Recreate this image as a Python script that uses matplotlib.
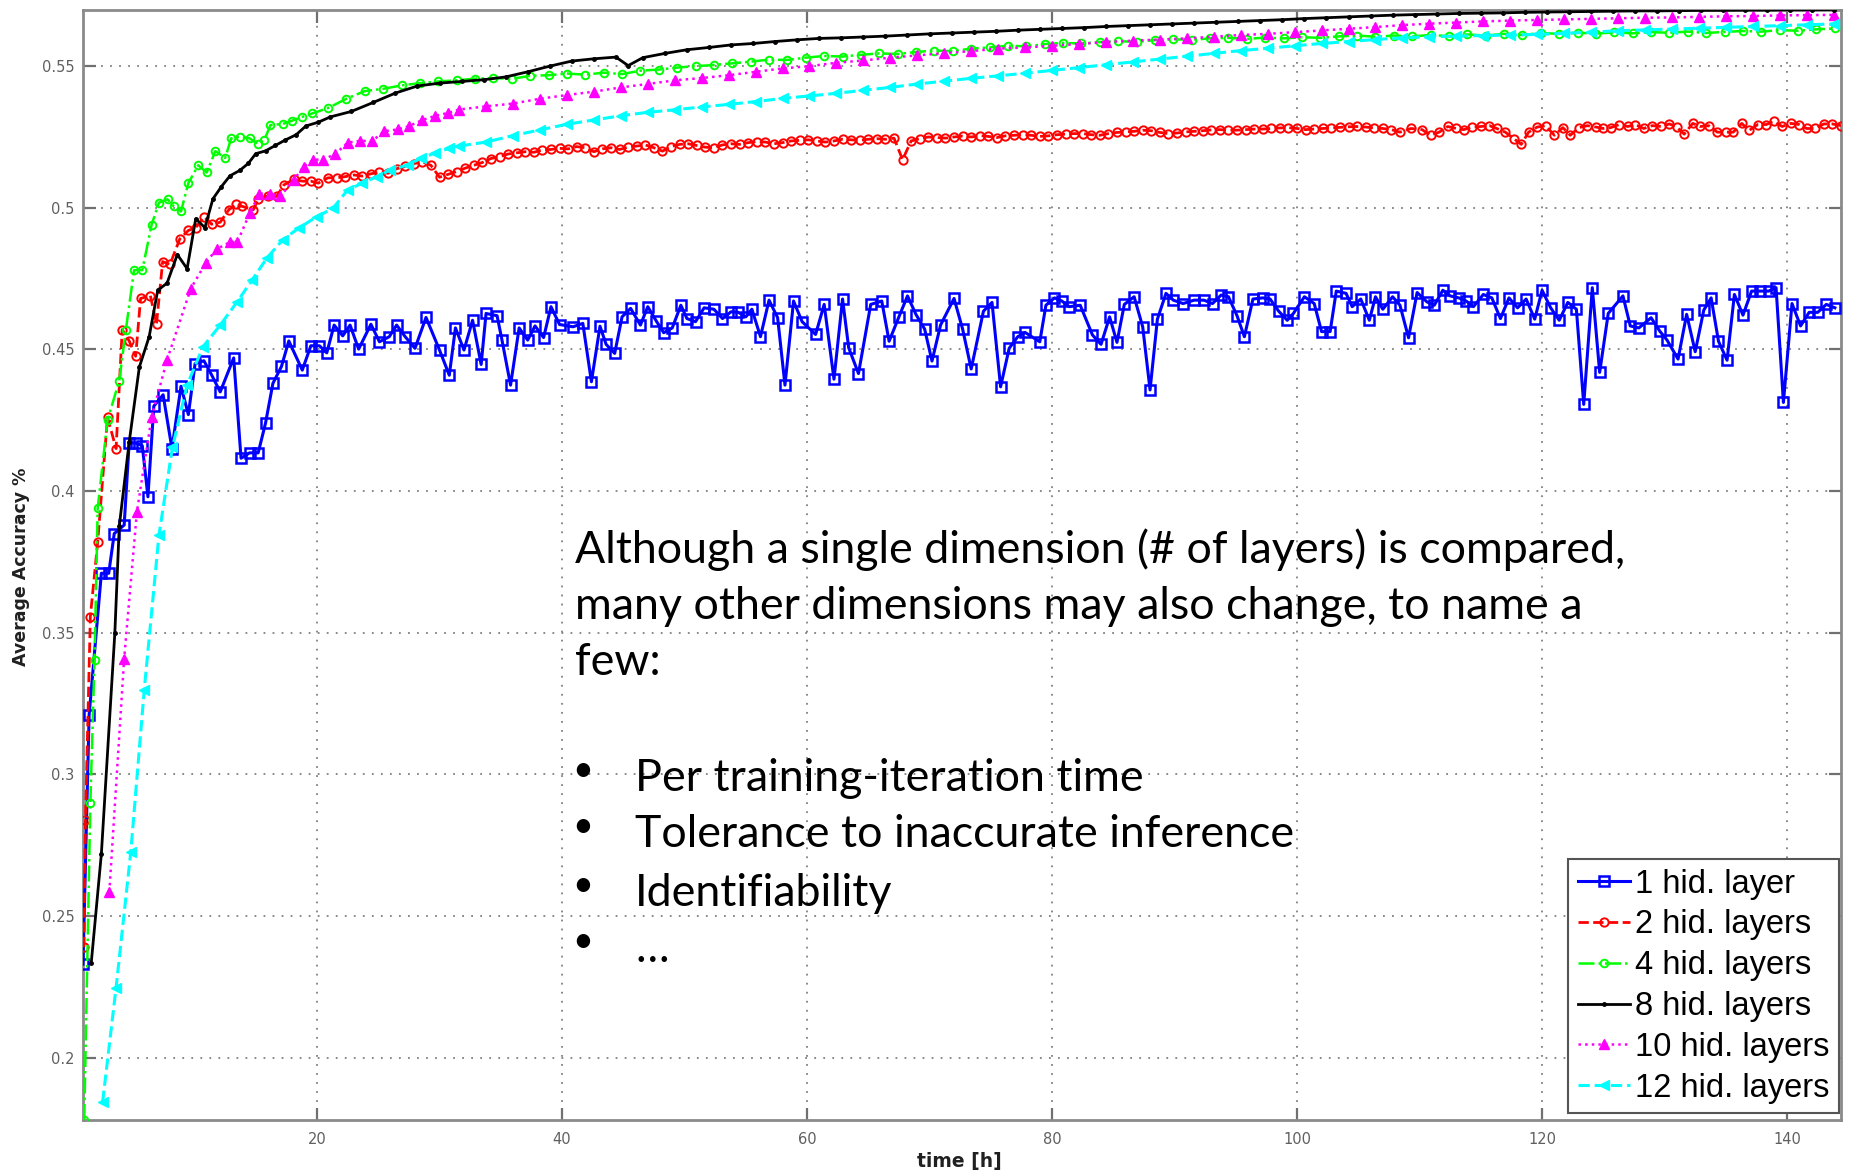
import matplotlib
matplotlib.use('Agg')
import matplotlib.pyplot as plt
from matplotlib.ticker import FixedLocator, FixedFormatter

# ---------------- data ----------------
blue_x = [0.9, 1.4, 2.4, 3.0, 3.45, 4.26, 4.67, 5.2, 5.74, 6.2,
          6.68, 7.44, 8.16, 8.9, 9.5, 10.05, 10.77, 11.4, 12.1, 13.2,
          13.8, 14.5, 15.2, 15.8, 16.4, 17.1, 17.7,
          18.8, 19.5, 20.2, 20.8, 21.4, 22.1, 22.7, 23.4, 24.4, 25.1,
          25.9, 26.5, 27.2, 28.0, 28.9, 30.0, 30.8, 31.3, 32.0, 32.7,
          33.4, 33.8, 34.7, 35.1, 35.8, 36.5, 37.2, 37.8, 38.5, 39.1,
          39.8, 40.9, 41.7, 42.4, 43.1, 43.6, 44.3, 44.9, 45.6, 46.4,
          47.0, 47.7, 48.3, 49.0, 49.7,
          50.2, 50.9, 51.6, 52.4, 53.1, 53.8, 54.4, 55.0, 55.5, 56.2,
          56.9, 57.6, 58.2, 58.9, 59.6, 60.7, 61.4, 62.2, 62.9, 63.4,
          64.2, 65.2, 66.1, 66.7, 67.5, 68.2, 68.9, 69.6, 70.2, 70.9,
          72.0, 72.7, 73.4, 74.4, 75.1, 75.8, 76.5, 77.2, 77.8, 79.0,
          79.5, 80.2, 80.8, 81.4,
          82.3, 83.3, 84.0, 84.7, 85.3, 85.9, 86.7, 87.4, 88.0, 88.6,
          89.3, 89.9, 90.7, 91.6, 92.4, 93.1, 93.8, 94.4, 95.1, 95.7,
          96.4, 97.2, 97.8, 98.5, 99.2, 99.7, 100.6, 101.4, 102.0, 102.7,
          103.2, 104.0, 104.5, 105.2, 105.9, 106.4, 107.0, 107.8, 108.4, 109.1,
          109.8, 110.6, 111.2, 111.9,
          112.5, 113.2, 113.8, 114.4, 115.2, 115.9, 116.6, 117.3, 118.0, 118.7,
          119.4, 120.0, 120.7, 121.4, 122.1, 122.8, 123.4, 124.1, 124.7, 125.4,
          126.6, 127.2, 127.9, 128.9, 129.6, 130.2, 131.1, 131.8, 132.5, 133.2,
          133.8, 134.4, 135.1, 135.7, 136.4, 137.1, 137.8, 138.5, 139.1, 139.7,
          140.4, 141.1, 141.8, 142.5, 143.2, 143.9]
blue_y = [0.233, 0.321, 0.371, 0.371, 0.385, 0.388, 0.417, 0.417, 0.416, 0.398,
          0.430, 0.434, 0.415, 0.437, 0.427, 0.445, 0.446, 0.441, 0.435, 0.447,
          0.4116, 0.4135, 0.4135, 0.424, 0.438, 0.444, 0.453,
          0.4427, 0.4513, 0.4513, 0.4488, 0.4586, 0.4548, 0.4586, 0.4501, 0.4589, 0.4527,
          0.4545, 0.4586, 0.4545, 0.4504, 0.4613, 0.4498, 0.4409, 0.4576, 0.4498, 0.4603,
          0.4447, 0.4627, 0.4619, 0.4533, 0.4374, 0.4576, 0.4533, 0.4583, 0.4542, 0.4651,
          0.4588, 0.4580, 0.4592, 0.4386, 0.4582, 0.4518, 0.4486, 0.4615, 0.4645, 0.4586,
          0.4651, 0.4600, 0.4559, 0.4576, 0.4656,
          0.4609, 0.4598, 0.4647, 0.4642, 0.4609, 0.4633, 0.4631, 0.4615, 0.4642, 0.4545,
          0.4674, 0.4612, 0.4374, 0.4671, 0.4598, 0.4553, 0.4659, 0.4395, 0.4678, 0.4506,
          0.4415, 0.4659, 0.4671, 0.4529, 0.4615, 0.4689, 0.4623, 0.4572, 0.4459, 0.4586,
          0.4680, 0.4572, 0.4431, 0.4635, 0.4666, 0.4368, 0.4504, 0.4545, 0.4560, 0.4527,
          0.4656, 0.4682, 0.4671, 0.4651,
          0.4656, 0.4551, 0.4518, 0.4615, 0.4525, 0.4659, 0.4686, 0.4580, 0.4357, 0.4607,
          0.4698, 0.4674, 0.4662, 0.4674, 0.4674, 0.4662, 0.4692, 0.4686, 0.4619, 0.4545,
          0.4678, 0.4682, 0.4678, 0.4635, 0.4603, 0.4627, 0.4686, 0.4662, 0.4563, 0.4563,
          0.4706, 0.4698, 0.4651, 0.4678, 0.4603, 0.4686, 0.4642, 0.4686, 0.4656, 0.4541,
          0.4701, 0.4668, 0.4656, 0.4709,
          0.4689, 0.4682, 0.4671, 0.4651, 0.4694, 0.4682, 0.4609, 0.4682, 0.4647, 0.4678,
          0.4607, 0.4709, 0.4647, 0.4603, 0.4666, 0.4642, 0.4306, 0.4718, 0.4419, 0.4627,
          0.4689, 0.4583, 0.4576, 0.4612, 0.4565, 0.4533, 0.4466, 0.4624, 0.4492, 0.4639,
          0.4682, 0.4529, 0.4462, 0.4694, 0.4621, 0.4706, 0.4706, 0.4706, 0.4718, 0.4313,
          0.4662, 0.4583, 0.4631, 0.4631, 0.4659, 0.4647]

red_x = [0.98, 1.1, 1.5, 2.1, 2.9, 3.6, 4.1, 4.67, 5.2, 5.6,
         6.4, 6.9, 7.4, 8.0, 8.8, 9.5, 10.1, 10.8, 11.4, 12.1,
         12.8, 13.4, 13.9, 14.8, 15.2, 16.0, 16.7, 17.3, 18.1, 18.8,
         19.5, 20.1, 20.9,
         21.6, 22.3, 23.0, 23.7, 24.4, 25.1, 25.8, 26.5, 27.2, 27.9,
         28.6, 29.3, 30.0, 30.7, 31.4, 32.1, 32.8, 33.5, 34.2, 34.9,
         35.6, 36.3, 37.0, 37.7, 38.4, 39.1, 39.8, 40.5, 41.2, 41.9,
         42.6, 43.3, 44.0, 44.7, 45.4, 46.1, 46.8, 47.5, 48.2, 48.9,
         49.6, 50.3, 51.0, 51.7, 52.4, 53.1, 53.8, 54.5, 55.2, 55.9,
         56.6, 57.3, 58.0, 58.7, 59.4, 60.1, 60.8, 61.5, 62.2, 62.9,
         63.6, 64.3, 65.0, 65.7, 66.4, 67.1, 67.8, 68.5, 69.2, 69.9,
         70.6, 71.3, 72.0, 72.7, 73.4, 74.1, 74.8, 75.5, 76.2, 76.9,
         77.6, 78.3, 79.0, 79.7, 80.4, 81.1, 81.8, 82.5, 83.2, 83.9,
         84.6, 85.3, 86.0, 86.7, 87.4, 88.1, 88.8, 89.5, 90.2, 90.9,
         91.6, 92.3, 93.0, 93.7, 94.4, 95.1, 95.8, 96.5, 97.2, 97.9,
         98.6, 99.3, 100.0, 100.7, 101.4, 102.1, 102.8, 103.5, 104.2, 104.9,
         105.6, 106.3, 107.0, 107.7,
         108.4, 109.3, 110.2, 110.9, 111.6, 112.3, 113.0, 113.6, 114.3, 115.0,
         115.7, 116.3, 117.0, 117.7, 118.3, 118.9, 119.6, 120.3, 121.0, 121.7,
         122.3, 123.0, 123.7, 124.4, 125.0, 125.6, 126.3, 127.0, 127.6, 128.3,
         129.0, 129.7, 130.4, 131.0, 131.6, 132.3, 132.9, 133.6, 134.3, 135.0,
         135.6, 136.3, 136.9, 137.6, 138.3, 138.9, 139.6, 140.3, 141.0, 141.6,
         142.3, 143.0, 143.7, 144.4]
red_y = [0.239, 0.284, 0.3557, 0.382, 0.426, 0.415, 0.457, 0.453, 0.4476, 0.468,
         0.469, 0.459, 0.481, 0.480, 0.489, 0.492, 0.493, 0.4968, 0.4942, 0.4949,
         0.4993, 0.5012, 0.5005, 0.4993, 0.503, 0.5043, 0.504, 0.5081, 0.510, 0.5094,
         0.5094, 0.5087, 0.5106,
         0.5106, 0.5110, 0.5116, 0.5112, 0.5120, 0.5126, 0.5122, 0.5138, 0.5146, 0.5156,
         0.5162, 0.5150, 0.5108, 0.5118, 0.5128, 0.5140, 0.5150, 0.5160, 0.5174, 0.5180,
         0.5190, 0.5194, 0.5198, 0.5196, 0.5204, 0.5206, 0.5210, 0.5208, 0.5216, 0.5212,
         0.5198, 0.5208, 0.5212, 0.5206, 0.5214, 0.5218, 0.5222, 0.5212, 0.5200, 0.5216,
         0.5224, 0.5226, 0.5220, 0.5214, 0.5212, 0.5222, 0.5226, 0.5224, 0.5230, 0.5234,
         0.5232, 0.5226, 0.5230, 0.5236, 0.5238, 0.5240, 0.5236, 0.5232, 0.5236, 0.5242,
         0.5240, 0.5238, 0.5242, 0.5244, 0.5242, 0.5246, 0.5170, 0.5236, 0.5244, 0.5250,
         0.5248, 0.5246, 0.5250, 0.5253, 0.5250, 0.5255, 0.5252, 0.5248, 0.5254, 0.5256,
         0.5258, 0.5256, 0.5252, 0.5254, 0.5258, 0.5260, 0.5262, 0.5262, 0.5258, 0.5256,
         0.5262, 0.5266, 0.5268, 0.5270, 0.5274, 0.5272, 0.5266, 0.5262, 0.5264, 0.5268,
         0.5270, 0.5272, 0.5275, 0.5276, 0.5274, 0.5274, 0.5276, 0.5278, 0.5278, 0.5280,
         0.5282, 0.5283, 0.5280, 0.5276, 0.5278, 0.5280, 0.5282, 0.5284, 0.5286, 0.5287,
         0.5285, 0.5282, 0.5280, 0.5276,
         0.5267, 0.528, 0.5276, 0.5256, 0.5267, 0.5287, 0.528, 0.5276, 0.5285, 0.5287,
         0.529, 0.528, 0.5267, 0.5244, 0.5224, 0.5267, 0.5285, 0.529, 0.5256, 0.5283,
         0.5256, 0.5283, 0.529, 0.5285, 0.528, 0.5283, 0.5294, 0.5287, 0.5294, 0.528,
         0.529, 0.5287, 0.5296, 0.5285, 0.526, 0.5298, 0.5287, 0.529, 0.5267, 0.5267,
         0.5267, 0.5298, 0.5273, 0.5294, 0.5294, 0.5305, 0.5287, 0.5298, 0.5294, 0.528,
         0.528, 0.5296, 0.5296, 0.529]

green_x = [1.0, 1.5, 1.84, 2.1, 2.9, 3.86, 4.4, 5.07, 5.74, 6.5,
           7.1, 7.8, 8.3, 8.9, 9.5, 10.3, 11.0, 11.7, 12.5, 13.0,
           13.7, 14.5, 15.2, 15.7, 16.2, 17.2, 18.0, 18.8, 19.6, 20.9,
           22.4, 23.9, 25.4, 26.9, 28.4, 29.9, 31.4, 32.9, 34.4, 35.9,
           37.4, 38.9, 40.4, 41.9, 43.4, 44.9, 46.4, 47.9, 49.4, 50.9,
           52.4, 53.9, 55.4, 56.9, 58.4, 59.9, 61.4, 62.9, 64.4, 65.9,
           67.4, 68.9, 70.4, 71.9, 73.4, 74.9, 76.4, 77.9, 79.4, 80.9,
           82.4, 83.9, 85.4, 86.9, 88.4, 89.9, 91.4, 92.9, 94.4, 95.9,
           97.4, 98.9, 100.4, 101.9, 103.4, 104.9, 106.4, 107.9, 109.4, 110.9,
           112.4, 113.9, 115.4, 116.9, 118.4, 119.9, 121.4, 122.9, 124.4, 125.9,
           127.4, 128.9, 130.4, 131.9, 133.4, 134.9, 136.4, 137.9, 139.4, 140.9,
           142.4, 143.9]
green_y = [0.178, 0.29, 0.3405, 0.394, 0.425, 0.439, 0.457, 0.478, 0.478, 0.494,
           0.5018, 0.503, 0.5005, 0.4987, 0.5087, 0.515, 0.5125, 0.520, 0.5176, 0.5245,
           0.5251, 0.5245, 0.5226, 0.5239, 0.5292, 0.5296, 0.5308, 0.5321, 0.5333, 0.5352,
           0.5385, 0.5412, 0.5420, 0.5432, 0.5440, 0.5446, 0.5450, 0.5456, 0.5458, 0.5455,
           0.5466, 0.5468, 0.5474, 0.5470, 0.5477, 0.5472, 0.5484, 0.5488, 0.5495, 0.5500,
           0.5504, 0.5510, 0.5516, 0.5523, 0.5522, 0.5530, 0.5536, 0.5534, 0.5540, 0.5545,
           0.5543, 0.5550, 0.5555, 0.5553, 0.5562, 0.5566, 0.5572, 0.5570, 0.5578, 0.5582,
           0.5580, 0.5585, 0.5588, 0.5586, 0.5592, 0.5595, 0.5593, 0.5598, 0.5600, 0.5596,
           0.5601, 0.5598, 0.5602, 0.5600, 0.5605, 0.5608, 0.5604, 0.5608, 0.5605, 0.5610,
           0.5606, 0.5612, 0.5608, 0.5614, 0.5610, 0.5617, 0.5614, 0.5618, 0.5615, 0.5619,
           0.5616, 0.5620, 0.5618, 0.5622, 0.5617, 0.5621, 0.5624, 0.5622, 0.5627, 0.5625,
           0.5630, 0.5633]

black_x = [1.57, 2.4, 3.5, 3.86, 4.67, 5.5, 6.3, 7.0, 7.76, 8.6,
           9.4, 10.1, 10.85, 11.5, 12.2, 12.9, 13.7, 14.4, 15.0, 15.8,
           16.6, 17.4, 18.3, 19.1, 20.1, 21.1,
           22.8, 24.6, 26.4, 28.2, 30.0, 31.8, 33.6, 35.4, 37.2, 39.0,
           40.8, 42.6, 44.4, 45.4, 46.6, 48.4, 50.2, 52.0, 53.8, 55.6,
           57.4, 59.2, 61.0, 62.8, 64.6, 66.4, 68.2, 70.0, 71.8, 73.6,
           75.4, 77.2, 79.0, 80.8, 82.6, 84.4, 86.2, 88.0, 89.8, 91.6,
           93.4, 95.2, 97.0, 98.8, 100.6, 102.4, 104.2, 106.0, 107.8, 109.6,
           111.4, 113.2, 115.0, 116.8, 118.6, 120.4, 122.2, 124.0, 125.8, 127.6,
           129.4, 131.2, 133.0, 134.8, 136.6, 138.4, 140.2, 142.0, 143.8]
black_y = [0.2333, 0.272, 0.35, 0.3876, 0.4173, 0.4438, 0.4545, 0.4709, 0.4734, 0.4835,
           0.4785, 0.4961, 0.493, 0.5031, 0.5075, 0.5113, 0.5132, 0.5157, 0.5191, 0.5201,
           0.522, 0.5239, 0.5258, 0.5289, 0.5302, 0.5321,
           0.5340, 0.5372, 0.5405, 0.5430, 0.5440, 0.5446, 0.5452, 0.5462, 0.5480, 0.5500,
           0.5518, 0.5526, 0.5532, 0.5502, 0.5530, 0.5545, 0.5558, 0.5566, 0.5575, 0.5580,
           0.5587, 0.5593, 0.5598, 0.5600, 0.5603, 0.5606, 0.5610, 0.5614, 0.5617, 0.5620,
           0.5623, 0.5627, 0.5630, 0.5633, 0.5636, 0.5640, 0.5643, 0.5646, 0.5649, 0.5652,
           0.5655, 0.5658, 0.5661, 0.5664, 0.5668, 0.5671, 0.5674, 0.5677, 0.5680, 0.5682,
           0.5684, 0.5686, 0.5687, 0.5688, 0.5690, 0.5691, 0.5692, 0.5693, 0.5694, 0.5695,
           0.5695, 0.5696, 0.5697, 0.5697, 0.5698, 0.5698, 0.5699, 0.5699, 0.5700]

magenta_x = [3.05, 4.26, 5.3, 6.5, 7.76, 9.7, 10.9, 11.8, 12.9, 13.5,
             14.5, 15.3, 16.2, 17.0, 18.1, 18.9, 19.7, 20.5, 21.5, 22.5,
             23.5, 24.5, 25.5, 26.6, 27.5, 28.6, 29.6, 30.7, 31.6,
             33.8, 36.0, 38.2, 40.4, 42.6, 44.8, 47.0, 49.2, 51.4, 53.6,
             55.8, 58.0, 60.2, 62.4, 64.6, 66.8, 69.0, 71.2, 73.4, 75.6,
             77.8, 80.0, 82.2, 84.4, 86.6, 88.8, 91.0, 93.2, 95.4, 97.6,
             99.8, 102.0, 104.2, 106.4, 108.6, 110.8, 113.0, 115.2, 117.4, 119.6,
             121.8, 124.0, 126.2, 128.4, 130.6, 132.8, 135.0, 137.2, 139.4, 141.6,
             143.8]
magenta_y = [0.2585, 0.3409, 0.3927, 0.4261, 0.4463, 0.4715, 0.4804, 0.4854, 0.4879, 0.4879,
             0.498, 0.505, 0.505, 0.504, 0.5098, 0.5145, 0.517, 0.517, 0.519, 0.523,
             0.5236, 0.5236, 0.527, 0.5277, 0.5288, 0.531, 0.5324, 0.5335, 0.5347,
             0.5358, 0.5368, 0.5385, 0.5398, 0.5410, 0.5425, 0.5437, 0.5450, 0.5458, 0.5468,
             0.5480, 0.5492, 0.5500, 0.5512, 0.5520, 0.5530, 0.5538, 0.5546, 0.5553, 0.5562,
             0.5566, 0.5572, 0.5578, 0.5585, 0.5590, 0.5594, 0.5598, 0.5604, 0.5610, 0.5614,
             0.5620, 0.5626, 0.5632, 0.5638, 0.5645, 0.5650, 0.5654, 0.5658, 0.5661, 0.5663,
             0.5665, 0.5667, 0.5669, 0.5671, 0.5672, 0.5674, 0.5676, 0.5677, 0.5679, 0.5680,
             0.5681]

cyan_x = [2.5, 3.6, 4.8, 5.9, 7.1, 8.2, 9.4, 10.7, 12.1, 13.5,
          14.7, 15.9, 17.2, 18.5, 20.0, 21.3, 22.5, 23.7, 24.9, 26.0,
          27.4, 28.5, 29.6, 30.8, 31.6,
          33.8, 36.0, 38.2, 40.4, 42.6, 44.8, 47.0, 49.2, 51.4, 53.6,
          55.8, 58.0, 60.2, 62.4, 64.6, 66.8, 69.0, 71.2, 73.4, 75.6,
          77.8, 80.0, 82.2, 84.4, 86.6, 88.8, 91.0, 93.2, 95.4, 97.6,
          99.8, 102.0, 104.2, 106.4, 108.6, 110.8, 113.0, 115.2, 117.4, 119.6,
          121.8, 124.0, 126.2, 128.4, 130.6, 132.8, 135.0, 137.2, 139.4, 141.6,
          143.8]
cyan_y = [0.1844, 0.2247, 0.2726, 0.3299, 0.3845, 0.4154, 0.4375, 0.451, 0.4586, 0.4669,
          0.4745, 0.4822, 0.4887, 0.4928, 0.4969, 0.4998, 0.5063, 0.5087, 0.511, 0.5134,
          0.5151, 0.5175, 0.5193, 0.521, 0.5218,
          0.5232, 0.5255, 0.5275, 0.5295, 0.5310, 0.5325, 0.5337, 0.5346, 0.5356, 0.5365,
          0.5375, 0.5386, 0.5395, 0.5404, 0.5415, 0.5425, 0.5437, 0.5447, 0.5457, 0.5466,
          0.5475, 0.5485, 0.5495, 0.5505, 0.5515, 0.5525, 0.5535, 0.5545, 0.5555, 0.5563,
          0.5572, 0.5580, 0.5587, 0.5594, 0.5600, 0.5604, 0.5606, 0.5608, 0.5610, 0.5612,
          0.5616, 0.5620, 0.5625, 0.5628, 0.5631, 0.5634, 0.5637, 0.5640, 0.5643, 0.5646,
          0.5649]

series_labels = ['1 hid. layer', '2 hid. layers', '4 hid. layers',
                 '8 hid. layers', '10 hid. layers', '12 hid. layers']

y_ticks = [0.2, 0.25, 0.3, 0.35, 0.4, 0.45, 0.5, 0.55]
y_tick_labels = ['0.2', '0.25', '0.3', '0.35', '0.4', '0.45', '0.5', '0.55']
x_ticks = [20, 40, 60, 80, 100, 120, 140]
x_tick_labels = ['20', '40', '60', '80', '100', '120', '140']

note_lines = ['Although a single dimension (# of layers) is compared,',
              'many other dimensions may also change, to name a',
              'few:']
bullet_items = ['Per training-iteration time',
                'Tolerance to inaccurate inference',
                'Identifiability',
                '\u2026']

# ---------------- figure ----------------
W, H = 1852, 1172
fig = plt.figure(figsize=(W / 100, H / 100), dpi=100)
fig.patch.set_facecolor('white')
L, R, T, B = 83, 1841, 9.5, 1120
ax = fig.add_axes([L / W, 1 - B / H, (R - L) / W, (B - T) / H])

ax.plot(blue_x, blue_y, color='#0000ff', ls='-', lw=2.2, marker='s', ms=6.5,
        mfc='none', mew=1.8, label=series_labels[0], zorder=3)
ax.plot(red_x, red_y, color='#ff0000', ls='--', lw=2.0, marker='o', ms=6,
        mfc='none', mew=1.4, label=series_labels[1], zorder=3)
ax.plot(green_x, green_y, color='#00ff00', ls='-.', lw=1.8, marker='o', ms=5.5,
        mfc='none', mew=1.4, label=series_labels[2], zorder=3)
ax.plot(black_x, black_y, color='black', ls='-', lw=2.0, marker='.', ms=5,
        label=series_labels[3], zorder=4)
ax.plot(magenta_x, magenta_y, color='#ff00ff', ls=':', lw=1.8, marker='^', ms=7,
        mfc='#ff00ff', label=series_labels[4], zorder=3)
ax.plot(cyan_x, cyan_y, color='#00ffff', ls='--', lw=2.2, marker='<', ms=7,
        mfc='#00ffff', label=series_labels[5], zorder=3)

ax.set_xlim(0.9, 144.4)
ax.set_ylim(0.178, 0.57)
ax.xaxis.set_major_locator(FixedLocator(x_ticks))
ax.xaxis.set_major_formatter(FixedFormatter(x_tick_labels))
ax.yaxis.set_major_locator(FixedLocator(y_ticks))
ax.yaxis.set_major_formatter(FixedFormatter(y_tick_labels))

ax.grid(True, ls=(0, (1, 4)), color='#808080', lw=1.3)
ax.tick_params(direction='in', length=9, width=1.6, color='#707070',
               labelcolor='#606060', labelsize=10.5, top=True, right=True)
ax.tick_params(axis='x', pad=9)
ax.tick_params(axis='y', pad=6)
for lab in ax.get_xticklabels() + ax.get_yticklabels():
    lab.set_family(['Liberation Sans Narrow', 'DejaVu Sans'])
for sp in ax.spines.values():
    sp.set_color('#8a8a8a')
    sp.set_linewidth(2)

leg = ax.legend(loc='lower right', bbox_to_anchor=(0.999, 0.006),
                borderaxespad=0, fancybox=False, framealpha=1,
                edgecolor='#555555', prop={'family': 'Liberation Sans', 'size': 23.5},
                handlelength=1.6, handletextpad=0.15, labelspacing=0.3,
                borderpad=0.3)
leg.get_frame().set_linewidth(1.5)

fig.text(21 / W, 1 - 567 / H, 'Average Accuracy %', rotation=90, ha='center',
         va='center', fontsize=12.5, color='#202020', weight='bold',
         family=['Liberation Sans Narrow', 'DejaVu Sans'])
fig.text(959 / W, 1 - 1161 / H, 'time [h]', ha='center', va='center',
         fontsize=13.5, color='#202020', weight='bold',
         family=['Liberation Sans Narrow', 'DejaVu Sans'])

note_font = dict(fontsize=32.2, color='black', family=['Lato', 'DejaVu Sans'])
line_base = [563, 619, 675]
for s, yb in zip(note_lines, line_base):
    fig.text(575 / W, 1 - yb / H, s, ha='left', va='baseline', **note_font)
bullet_base = [791, 847, 906, 962]
for s, yb in zip(bullet_items, bullet_base):
    fig.text(583 / W, 1 - (yb - 10) / H, '\u2022', ha='center', va='baseline',
             fontsize=26, color='black', family=['Lato', 'DejaVu Sans'])
    fig.text(635 / W, 1 - yb / H, s, ha='left', va='baseline', **note_font)

fig.savefig('out.png', dpi=100, facecolor='white')
